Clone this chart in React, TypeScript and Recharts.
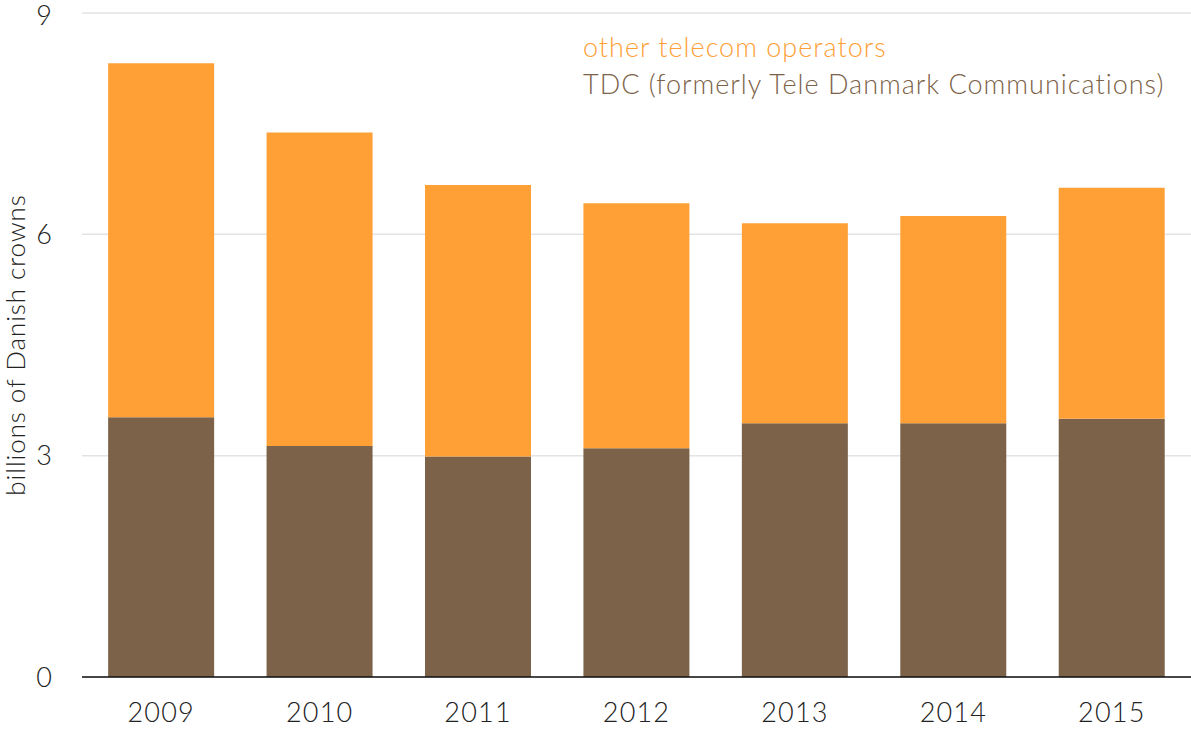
import React from 'react';
import { BarChart, Bar, XAxis, YAxis, CartesianGrid } from 'recharts';

const years = ['2009', '2010', '2011', '2012', '2013', '2014', '2015'];
const tdc = [3.52, 3.13, 2.99, 3.1, 3.44, 3.44, 3.5];
const others = [4.8, 4.25, 3.68, 3.32, 2.71, 2.81, 3.13];
const yTicks = [0, 3, 6, 9];

const ORANGE = '#ffa037';
const BROWN = '#7b6249';
const FONT = 'Lato, "Open Sans", sans-serif';

const data = years.map((year, i) => ({ year, tdc: tdc[i], others: others[i] }));

const tickStyle = { fontFamily: FONT, fontWeight: 300, fontSize: 27, fill: '#222', letterSpacing: 1.2 };

const App: React.FC = () => {
  return (
    <div style={{ position: 'absolute', left: 0, top: 0, width: 1191, height: 729, background: '#fff' }}>
      <BarChart
        width={1191}
        height={729}
        data={data}
        margin={{ top: 13, right: 0, bottom: 0, left: 0 }}
        barCategoryGap="16.5%"
      >
        <CartesianGrid vertical={false} stroke="#e3e3e3" strokeWidth={1.5} />
        <XAxis
          dataKey="year"
          height={52}
          tickLine={false}
          tickSize={0}
          tickMargin={26}
          axisLine={{ stroke: '#111', strokeWidth: 1.5 }}
          tick={tickStyle}
        />
        <YAxis
          width={82}
          domain={[0, 9]}
          ticks={yTicks}
          axisLine={false}
          tickLine={false}
          tickSize={0}
          tickMargin={29}
          tick={tickStyle}
          label={{
            value: 'billions of Danish crowns',
            angle: -90,
            position: 'insideLeft',
            offset: 16,
            style: {
              textAnchor: 'middle',
              fontFamily: FONT,
              fontWeight: 300,
              fontSize: 26,
              letterSpacing: 0.9,
              fill: '#222',
            },
          }}
        />
        <Bar dataKey="tdc" stackId="a" fill={BROWN} isAnimationActive={false} />
        <Bar dataKey="others" stackId="a" fill={ORANGE} isAnimationActive={false} />
      </BarChart>
      <div
        style={{
          position: 'absolute',
          left: 583,
          top: 28,
          fontFamily: FONT,
          fontWeight: 300,
          fontSize: 27,
          letterSpacing: 1,
          lineHeight: '37px',
          whiteSpace: 'nowrap',
        }}
      >
        <div style={{ color: ORANGE }}>other telecom operators</div>
        <div style={{ color: BROWN }}>TDC (formerly Tele Danmark Communications)</div>
      </div>
    </div>
  );
};

export default App;
